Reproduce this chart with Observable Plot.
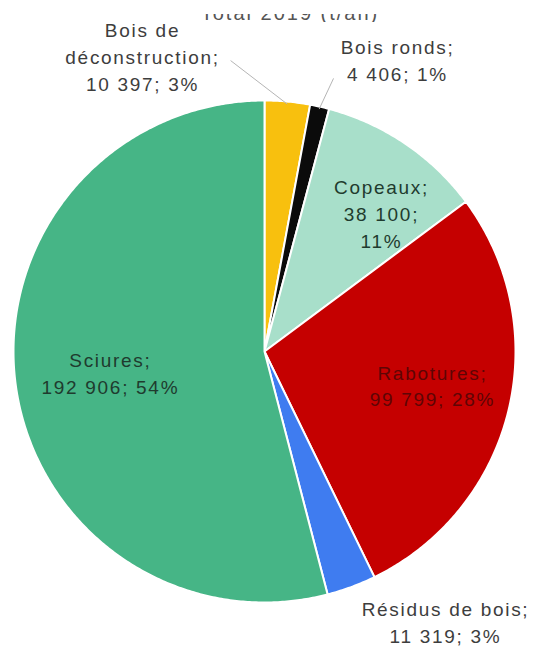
<!DOCTYPE html>
<html>
<head>
<meta charset="utf-8">
<script src="https://cdn.jsdelivr.net/npm/d3@7"></script>
<script src="https://cdn.jsdelivr.net/npm/@observablehq/plot@0.6"></script>
<style>
  html, body { margin: 0; padding: 0; background: #fff; }
  #wrap { position: relative; width: 535px; height: 648px; overflow: hidden; }
  #title { position: absolute; left: 0; top: -12px; width: 580px; text-align: center; line-height: 23px;
           font: 20px "Liberation Sans", Arial, sans-serif; letter-spacing: 2px; color: #555; }
  #clip { position: absolute; left: 0; top: 14px; width: 535px; height: 8px; overflow: hidden; }
</style>
</head>
<body>
<div id="wrap"></div>
<script>
// ---- data ----
const categories = ["Bois de déconstruction", "Bois ronds", "Copeaux", "Rabotures", "Résidus de bois", "Sciures"];
const values = [10397, 4406, 38100, 99799, 11319, 192906];
const labelNames = ["Bois de\ndéconstruction;", "Bois ronds;", "Copeaux;", "Rabotures;", "Résidus de bois;", "Sciures;"];
const colors = ["#f8c00e", "#0b0b0b", "#a8dfca", "#c50000", "#3f7cf0", "#46b586"];

// ---- layout (label placement in radius units, relative to the pie centre) ----
const labelPos = [[-0.486, 1.179], [0.530, 1.167], [0.466, 0.554], [0.669, -0.131], [0.721, -1.072], [-0.614, -0.080]];
const labelSep = ["\n", "\n", "\n", "\n", "\n", "\n"];
const valueSep = ["; ", "; ", ";\n", "; ", "; ", "; "];
const labelColor = ["#3d3d3d", "#3d3d3d", "#1f3b2e", "#5e0505", "#3d3d3d", "#1f3b2e"];
const leaderEnd = [[-0.135, 1.159], [0.275, 1.088], null, null, null, null];

const fmt = d3.formatLocale({decimal: ",", thousands: "\u00a0", grouping: [3], currency: ["", ""]}).format(",d");
const total = d3.sum(values);

// angles from 12 o'clock, clockwise
let acc = 0;
const slices = categories.map((c, i) => {
  const a0 = acc / total * 2 * Math.PI;
  acc += values[i];
  const a1 = acc / total * 2 * Math.PI;
  return {category: c, value: values[i], a0, a1, i};
});

// polygon outline of each slice (centre + arc), in radius units
const outline = [];
for (const s of slices) {
  outline.push({category: s.category, x: 0, y: 0});
  const n = Math.max(2, Math.ceil((s.a1 - s.a0) / (Math.PI / 360)));
  for (let k = 0; k <= n; k++) {
    const a = s.a0 + (s.a1 - s.a0) * k / n;
    outline.push({category: s.category, x: Math.sin(a), y: Math.cos(a)});
  }
  outline.push({category: s.category, x: 0, y: 0});
}

const labels = slices.map(s => ({
  category: s.category,
  x: labelPos[s.i][0],
  y: labelPos[s.i][1],
  text: labelNames[s.i] + labelSep[s.i] + fmt(s.value) + valueSep[s.i] + Math.round(s.value / total * 100) + "%",
  color: labelColor[s.i]
}));

const leaders = slices.filter(s => leaderEnd[s.i]).map(s => {
  const m = (s.a0 + s.a1) / 2;
  return {x1: Math.sin(m) * 0.99, y1: Math.cos(m) * 0.99, x2: leaderEnd[s.i][0], y2: leaderEnd[s.i][1]};
});

const chart = Plot.plot({
  width: 535,
  height: 648,
  margin: 0,
  style: {fontFamily: "'Liberation Sans', Arial, sans-serif", letterSpacing: "1.7px", background: "transparent"},
  x: {domain: [-1, 1], range: [13, 515], axis: null},
  y: {domain: [-1, 1], range: [602, 100], axis: null},
  color: {domain: categories, range: colors},
  marks: [
    Plot.line(outline, {x: "x", y: "y", z: "category", fill: "category", stroke: "white", strokeWidth: 2, strokeLinejoin: "round", curve: "linear"}),
    Plot.link(leaders, {x1: "x1", y1: "y1", x2: "x2", y2: "y2", stroke: "#b5b5b5", strokeWidth: 1}),
    Plot.text(labels, {x: "x", y: "y", text: "text", fill: d => d.color, fontSize: 19, lineHeight: 1.42, textAnchor: "middle", lineAnchor: "middle"})
  ]
});

const wrap = document.getElementById("wrap");
wrap.appendChild(chart);
const clip = document.createElement("div");
clip.id = "clip";
const title = document.createElement("div");
title.id = "title";
title.textContent = "Total 2019 (t/an)";
clip.appendChild(title);
wrap.appendChild(clip);
</script>
</body>
</html>
